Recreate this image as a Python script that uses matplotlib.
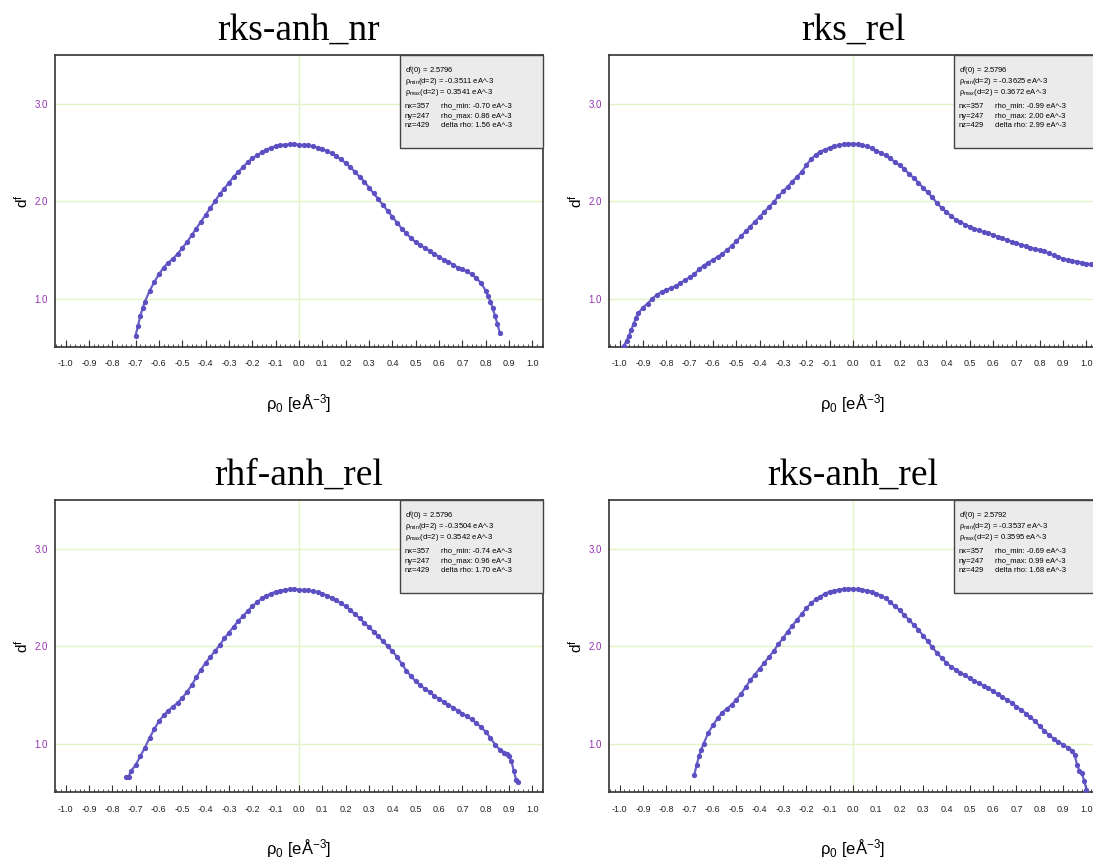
import matplotlib
matplotlib.use("Agg")
import matplotlib.pyplot as plt
from matplotlib.patches import Rectangle
from matplotlib.ticker import MultipleLocator, FixedLocator

plt.rcParams['font.family'] = ['Liberation Sans', 'DejaVu Sans']
plt.rcParams['mathtext.default'] = 'regular'

# panel titles
titles = ["rks-anh_nr", "rks_rel", "rhf-anh_rel", "rks-anh_rel"]

# rks-anh_nr
x1 = [-0.70, -0.69, -0.68, -0.67, -0.66, -0.64, -0.62, -0.60, -0.58, -0.56, -0.54, -0.52,
      -0.50, -0.48, -0.46, -0.44, -0.42, -0.40, -0.38, -0.36, -0.34, -0.32, -0.30, -0.28,
      -0.26, -0.24, -0.22, -0.20, -0.18, -0.16, -0.14, -0.12, -0.10, -0.08, -0.06, -0.04,
      -0.02, 0.00, 0.02, 0.04, 0.06, 0.08, 0.10, 0.12, 0.14, 0.16, 0.18, 0.20, 0.22, 0.24,
      0.26, 0.28, 0.30, 0.32, 0.34, 0.36, 0.38, 0.40, 0.42, 0.44, 0.46, 0.48, 0.50, 0.52,
      0.54, 0.56, 0.58, 0.60, 0.62, 0.64, 0.66, 0.68, 0.70, 0.72, 0.74, 0.76, 0.78, 0.80,
      0.81, 0.82, 0.83, 0.84, 0.85, 0.86]
y1 = [0.62, 0.72, 0.82, 0.90, 0.97, 1.08, 1.17, 1.25, 1.32, 1.37, 1.41, 1.46,
      1.52, 1.58, 1.65, 1.72, 1.79, 1.86, 1.93, 2.00, 2.07, 2.13, 2.19, 2.25,
      2.30, 2.35, 2.40, 2.44, 2.47, 2.50, 2.53, 2.55, 2.565, 2.575, 2.58, 2.585,
      2.585, 2.58, 2.578, 2.572, 2.565, 2.55, 2.535, 2.515, 2.49, 2.46, 2.43, 2.39, 2.35, 2.30,
      2.25, 2.20, 2.14, 2.08, 2.02, 1.96, 1.90, 1.84, 1.78, 1.72, 1.67, 1.62, 1.58, 1.55,
      1.52, 1.49, 1.46, 1.43, 1.40, 1.38, 1.35, 1.32, 1.30, 1.28, 1.25, 1.21, 1.16, 1.08,
      1.03, 0.97, 0.90, 0.82, 0.74, 0.65]

# rks_rel
x2 = [-0.98, -0.97, -0.96, -0.95, -0.94, -0.93, -0.92, -0.90, -0.88, -0.86, -0.84, -0.82,
      -0.80, -0.78, -0.76, -0.74, -0.72, -0.70, -0.68, -0.66, -0.64, -0.62, -0.60, -0.58,
      -0.56, -0.54, -0.52, -0.50, -0.48, -0.46, -0.44, -0.42, -0.40, -0.38, -0.36, -0.34,
      -0.32, -0.30, -0.28, -0.26, -0.24, -0.22, -0.20, -0.18, -0.16, -0.14, -0.12, -0.10,
      -0.08, -0.06, -0.04, -0.02, 0.00, 0.02, 0.04, 0.06, 0.08, 0.10, 0.12, 0.14, 0.16,
      0.18, 0.20, 0.22, 0.24, 0.26, 0.28, 0.30, 0.32, 0.34, 0.36, 0.38, 0.40, 0.42, 0.44,
      0.46, 0.48, 0.50, 0.52, 0.54, 0.56, 0.58, 0.60, 0.62, 0.64, 0.66, 0.68, 0.70, 0.72,
      0.74, 0.76, 0.78, 0.80, 0.82, 0.84, 0.86, 0.88, 0.90, 0.92, 0.94, 0.96, 0.98, 1.00, 1.02]
y2 = [0.52, 0.57, 0.62, 0.68, 0.74, 0.80, 0.85, 0.91, 0.95, 1.00, 1.04, 1.07,
      1.09, 1.11, 1.13, 1.16, 1.19, 1.22, 1.25, 1.30, 1.34, 1.37, 1.40, 1.43,
      1.46, 1.50, 1.54, 1.59, 1.64, 1.69, 1.74, 1.79, 1.84, 1.89, 1.94, 1.99,
      2.05, 2.10, 2.15, 2.20, 2.25, 2.30, 2.37, 2.43, 2.475, 2.51, 2.53, 2.55,
      2.565, 2.575, 2.585, 2.59, 2.59, 2.585, 2.575, 2.565, 2.545, 2.52, 2.495, 2.47, 2.44,
      2.40, 2.37, 2.33, 2.28, 2.24, 2.19, 2.14, 2.09, 2.04, 1.98, 1.93, 1.89, 1.85, 1.81,
      1.79, 1.76, 1.74, 1.72, 1.70, 1.685, 1.67, 1.655, 1.635, 1.62, 1.60, 1.585, 1.57, 1.555,
      1.54, 1.525, 1.51, 1.50, 1.485, 1.465, 1.445, 1.43, 1.41, 1.40, 1.39, 1.38, 1.37, 1.36, 1.355]

# rhf-anh_rel
x3 = [-0.74, -0.73, -0.72, -0.70, -0.68, -0.66, -0.64, -0.62, -0.60, -0.58, -0.56, -0.54,
      -0.52, -0.50, -0.48, -0.46, -0.44, -0.42, -0.40, -0.38, -0.36, -0.34, -0.32, -0.30,
      -0.28, -0.26, -0.24, -0.22, -0.20, -0.18, -0.16, -0.14, -0.12, -0.10, -0.08, -0.06,
      -0.04, -0.02, 0.00, 0.02, 0.04, 0.06, 0.08, 0.10, 0.12, 0.14, 0.16, 0.18, 0.20, 0.22,
      0.24, 0.26, 0.28, 0.30, 0.32, 0.34, 0.36, 0.38, 0.40, 0.42, 0.44, 0.46, 0.48, 0.50,
      0.52, 0.54, 0.56, 0.58, 0.60, 0.62, 0.64, 0.66, 0.68, 0.70, 0.72, 0.74, 0.76, 0.78,
      0.80, 0.82, 0.84, 0.86, 0.88, 0.89, 0.90, 0.91, 0.92, 0.93, 0.94]
y3 = [0.66, 0.66, 0.72, 0.78, 0.87, 0.96, 1.06, 1.15, 1.23, 1.29, 1.34, 1.38,
      1.42, 1.47, 1.53, 1.60, 1.68, 1.76, 1.83, 1.89, 1.95, 2.01, 2.08, 2.14,
      2.20, 2.26, 2.31, 2.36, 2.41, 2.45, 2.49, 2.52, 2.54, 2.56, 2.57, 2.58,
      2.585, 2.585, 2.58, 2.578, 2.575, 2.565, 2.555, 2.54, 2.52, 2.495, 2.47, 2.44, 2.41, 2.37,
      2.33, 2.285, 2.24, 2.195, 2.15, 2.10, 2.05, 2.00, 1.95, 1.89, 1.82, 1.75, 1.69, 1.64,
      1.60, 1.56, 1.53, 1.49, 1.46, 1.43, 1.40, 1.37, 1.34, 1.31, 1.28, 1.25, 1.21, 1.17,
      1.12, 1.06, 0.99, 0.94, 0.91, 0.89, 0.87, 0.82, 0.72, 0.63, 0.61]

# rks-anh_rel
x4 = [-0.68, -0.67, -0.66, -0.65, -0.64, -0.62, -0.60, -0.58, -0.56, -0.54, -0.52, -0.50,
      -0.48, -0.46, -0.44, -0.42, -0.40, -0.38, -0.36, -0.34, -0.32, -0.30, -0.28, -0.26,
      -0.24, -0.22, -0.20, -0.18, -0.16, -0.14, -0.12, -0.10, -0.08, -0.06, -0.04, -0.02,
      0.00, 0.02, 0.04, 0.06, 0.08, 0.10, 0.12, 0.14, 0.16, 0.18, 0.20, 0.22, 0.24, 0.26,
      0.28, 0.30, 0.32, 0.34, 0.36, 0.38, 0.40, 0.42, 0.44, 0.46, 0.48, 0.50, 0.52, 0.54,
      0.56, 0.58, 0.60, 0.62, 0.64, 0.66, 0.68, 0.70, 0.72, 0.74, 0.76, 0.78, 0.80, 0.82,
      0.84, 0.86, 0.88, 0.90, 0.92, 0.94, 0.95, 0.96, 0.97, 0.98, 0.99, 1.00]
y4 = [0.68, 0.78, 0.87, 0.94, 1.00, 1.11, 1.19, 1.26, 1.32, 1.36, 1.40, 1.45,
      1.51, 1.58, 1.65, 1.71, 1.77, 1.83, 1.89, 1.95, 2.02, 2.08, 2.15, 2.21,
      2.27, 2.33, 2.39, 2.44, 2.48, 2.51, 2.54, 2.56, 2.57, 2.58, 2.585, 2.59,
      2.59, 2.585, 2.58, 2.57, 2.56, 2.54, 2.52, 2.49, 2.45, 2.41, 2.37, 2.32, 2.27, 2.22,
      2.17, 2.11, 2.05, 1.99, 1.93, 1.88, 1.83, 1.79, 1.76, 1.73, 1.70, 1.67, 1.645, 1.62,
      1.595, 1.57, 1.54, 1.51, 1.48, 1.45, 1.42, 1.38, 1.35, 1.31, 1.27, 1.23, 1.18, 1.13,
      1.09, 1.05, 1.02, 0.99, 0.96, 0.93, 0.88, 0.78, 0.72, 0.70, 0.62, 0.53]

# info box values
d0 = ["2.5796", "2.5796", "2.5796", "2.5792"]
rho_min_d2 = ["-0.3511", "-0.3625", "-0.3504", "-0.3537"]
rho_max_d2 = ["0.3541", "0.3672", "0.3542", "0.3595"]
rho_min = ["-0.70", "-0.99", "-0.74", "-0.69"]
rho_max = ["0.86", "2.00", "0.96", "0.99"]
delta_rho = ["1.56", "2.99", "1.70", "1.68"]
grid_n = ["nx=357", "ny=247", "nz=429"]

xs = [x1, x2, x3, x4]
ys = [y1, y2, y3, y4]

fig = plt.figure(figsize=(10.93, 8.61), dpi=100)
fig.patch.set_facecolor("white")

lefts = [55 / 1093, 609 / 1093]
bottoms = [1 - 347 / 861, 1 - 792 / 861]
w, h = 488 / 1093, 292 / 861

dot_color = "#5b4fc2"
grid_color = "#e2f3c6"
tick_purple = "#9232b0"
spine_color = "#333333"

for i in range(4):
    ax = fig.add_axes([lefts[i % 2], bottoms[i // 2], w, h])
    ax.set_xlim(-1.045, 1.045)
    ax.set_ylim(0.505, 3.5)

    # grid: horizontal at 1,2,3 and vertical at 0
    for gy in [1.0, 2.0, 3.0]:
        ax.axhline(gy, color=grid_color, lw=1.0, zorder=0)
    ax.axvline(0.0, color=grid_color, lw=1.0, zorder=0)

    ax.plot(xs[i], ys[i], '-', color=dot_color, lw=1.6, alpha=0.9, zorder=2)
    ax.plot(xs[i], ys[i], 'o', color=dot_color, ms=3.8, mew=0, zorder=3)

    ax.set_xticks([k / 10 for k in range(-10, 11)])
    ax.xaxis.set_minor_locator(MultipleLocator(0.02))
    ax.xaxis.set_major_formatter(plt.FuncFormatter(lambda v, p: "%.1f" % (0.0 if abs(v) < 1e-9 else v)))
    ax.tick_params(axis='x', which='major', direction='in', length=5, width=0.8,
                   color=spine_color, labelsize=6.5, pad=9, labelcolor="#222222")
    ax.tick_params(axis='x', which='minor', direction='in', length=2.5, width=0.6, color=spine_color)
    ax.yaxis.set_major_locator(FixedLocator([1.0, 2.0, 3.0]))
    ax.yaxis.set_major_formatter(plt.FuncFormatter(lambda v, p: "%.1f" % v))
    ax.tick_params(axis='y', length=0, labelsize=7, labelcolor=tick_purple, pad=5)

    for s in ax.spines.values():
        s.set_color(spine_color)
        s.set_linewidth(1.2)

    ax.set_title(titles[i], fontfamily="Liberation Serif", fontsize=27, pad=11)
    ax.set_ylabel(r"d$^f$", fontsize=11, rotation=90)
    ax.yaxis.set_label_coords(-0.05, 0.5)
    ax.set_xlabel(r"ρ$_0$ [eÅ$^{-3}$]", fontsize=12)
    ax.xaxis.set_label_coords(0.5, -0.155)

    # info box
    ax.add_patch(Rectangle((0.707, 0.682), 0.293, 0.318, transform=ax.transAxes,
                           facecolor="#ebebeb", edgecolor="#444444", lw=1.0, zorder=5,
                           clip_on=False))
    fs = 5.5
    ax.text(0.717, 0.944, r"d$^f$(0) = " + d0[i], transform=ax.transAxes, fontsize=fs, va='center', zorder=6)
    ax.text(0.717, 0.908, r"ρ$_{min}$(d=2) = " + rho_min_d2[i] + " eA^-3", transform=ax.transAxes,
            fontsize=fs, va='center', zorder=6)
    ax.text(0.717, 0.872, r"ρ$_{max}$(d=2) = " + rho_max_d2[i] + " eA^-3", transform=ax.transAxes,
            fontsize=fs, va='center', zorder=6)
    right_col = ["rho_min: " + rho_min[i] + " eA^-3",
                 "rho_max: " + rho_max[i] + " eA^-3",
                 "delta rho: " + delta_rho[i] + " eA^-3"]
    for k, yy in enumerate([0.825, 0.791, 0.757]):
        ax.text(0.717, yy, grid_n[k], transform=ax.transAxes, fontsize=fs, va='center', zorder=6)
        ax.text(0.790, yy, right_col[k], transform=ax.transAxes, fontsize=fs, va='center', zorder=6)

fig.savefig("out.png", dpi=100)
